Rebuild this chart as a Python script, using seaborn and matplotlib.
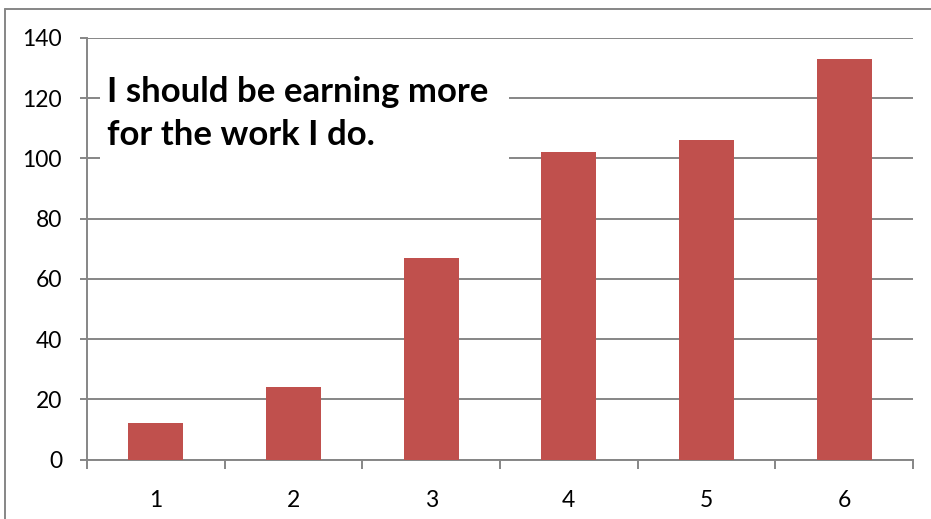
import matplotlib
matplotlib.use("Agg")
import matplotlib.pyplot as plt
from matplotlib.lines import Line2D
from matplotlib.patches import Rectangle
import seaborn as sns
import pandas as pd

# Survey responses per rating level
categories = ["1", "2", "3", "4", "5", "6"]
counts = [12, 24, 67, 102, 106, 133]
y_ticks = [0, 20, 40, 60, 80, 100, 120, 140]
title_text = "I should be earning more\nfor the work I do."

df = pd.DataFrame({"rating": categories, "count": counts})

sns.set_theme(style="white")
plt.rcParams["font.family"] = ["Lato", "DejaVu Sans"]

W, H = 931, 519
fig = plt.figure(figsize=(W / 100, H / 100), dpi=100)
ax = fig.add_axes([87 / W, 1 - 459.5 / H, (913 - 87) / W, (459.5 - 38) / H])

bar_color = "#C0504D"
grid_color = "#868686"

sns.barplot(data=df, x="rating", y="count", color=bar_color, saturation=1,
            width=0.4, linewidth=0, ax=ax, zorder=3)

ax.set_xlim(-0.5, len(categories) - 0.5)
ax.set_ylim(0, 140)
ax.set_yticks(y_ticks)
ax.set_yticklabels([str(v) for v in y_ticks])
ax.set_xlabel("")
ax.set_ylabel("")

# horizontal gridlines
ax.yaxis.grid(True, color=grid_color, linewidth=1.4)
ax.xaxis.grid(False)
ax.set_axisbelow(True)

for side in ("top", "right"):
    ax.spines[side].set_visible(False)
for side in ("left", "bottom"):
    ax.spines[side].set_color(grid_color)
    ax.spines[side].set_linewidth(1.4)

# category boundary ticks on the x axis
ax.set_xticks([i - 0.5 for i in range(len(categories) + 1)], minor=True)
ax.tick_params(axis="x", which="major", length=0, pad=22, labelsize=16.5,
               labelcolor="black")
ax.tick_params(axis="x", which="minor", length=6.5, width=1.4,
               color=grid_color, direction="out", bottom=True)
ax.tick_params(axis="y", which="major", length=5, width=1.4,
               color=grid_color, direction="out", left=True, pad=13,
               labelsize=16.5, labelcolor="black")

# white text box over the upper-left of the plot
ax.add_patch(Rectangle((100 / W, 1 - 163 / H), (509 - 100) / W, (163 - 62) / H,
                       transform=fig.transFigure, facecolor="white",
                       edgecolor="none", zorder=4))
ax.text(107 / W, 1 - 76 / H, title_text, transform=fig.transFigure,
        ha="left", va="top", fontsize=25, fontweight="bold", color="black",
        linespacing=1.42, zorder=5)

# chart frame
fig.add_artist(Line2D([5 / W, 5 / W], [0, 1 - 9 / H], transform=fig.transFigure,
                      color=grid_color, linewidth=1.4))
fig.add_artist(Line2D([5 / W, 1], [1 - 9 / H, 1 - 9 / H], transform=fig.transFigure,
                      color=grid_color, linewidth=1.4))

fig.savefig("out.png", dpi=100, facecolor="white")
